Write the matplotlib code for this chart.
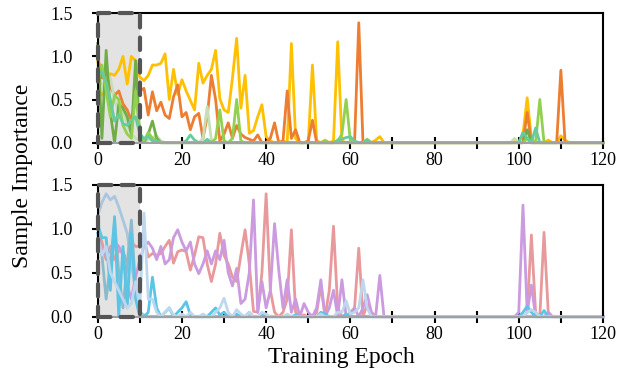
import numpy as np
import matplotlib
matplotlib.use("Agg")
from matplotlib import pyplot as plt
from matplotlib.patches import Rectangle

plt.rcParams['font.family'] = ['Liberation Serif', 'DejaVu Serif']

epochs = np.arange(0, 121)
late_start = 98   # second block of values starts at this epoch

# ---- top panel, epochs 0-69 and 98-112 (zero elsewhere)
gold_early = [0.95, 0.55, 0.72, 0.80, 0.78, 0.85, 1.00, 0.68, 1.00, 0.95,
              0.76, 0.72, 0.78, 0.90, 0.90, 0.92, 1.03, 0.50, 0.85, 0.56,
              0.73, 0.60, 0.49, 0.38, 0.92, 0.69, 0.78, 0.85, 1.07, 0.51,
              0.38, 0.35, 0.75, 1.21, 0.40, 0.78, 0.11, 0.14, 0.30, 0.44,
              0.07, 0.02, 0.00, 0.00, 0.02, 0.00, 1.15, 0.05, 0.00, 0.00,
              0.00, 0.90, 0.02, 0.00, 0.03, 0.00, 0.02, 1.17, 0.02, 0.00,
              0.00, 0.00, 0.00, 0.00, 0.00, 0.00, 0.03, 0.07, 0.00, 0.00]
gold_late = [0, 0.02, 0, 0.10, 0.52, 0.05, 0, 0, 0, 0.03, 0, 0, 0.08, 0.03, 0]

orange_early = [1.00, 0.75, 0.80, 0.65, 0.55, 0.60, 0.45, 0.38, 0.26, 0.50,
                0.60, 0.63, 0.32, 0.59, 0.37, 0.47, 0.32, 0.28, 0.53, 0.67,
                0.30, 0.35, 0.15, 0.30, 0.34, 0.05, 0.30, 0.78, 0.50, 0.02,
                0.10, 0.23, 0.05, 0.20, 0.10, 0.06, 0.04, 0.02, 0.09, 0.00,
                0.00, 0.05, 0.23, 0.00, 0.02, 0.60, 0.05, 0.15, 0.00, 0.00,
                0.02, 0.26, 0.00, 0.00, 0.00, 0.00, 0.00, 0.00, 0.00, 0.00,
                0.00, 0.00, 1.39, 0.00, 0.00, 0.00, 0.00, 0.00, 0.00, 0.00]
orange_late = [0, 0, 0, 0, 0.35, 0, 0, 0, 0, 0, 0, 0, 0.84, 0, 0]

dkgreen_early = [1.15, 0.05, 1.07, 0.35, 0.00, 0.45, 0.40, 0.30, 0.10, 0.95,
                 0.05, 0.00, 0.10, 0.25, 0.05]
dkgreen_late = [0, 0, 0, 0, 0.15, 0, 0, 0, 0, 0, 0, 0, 0, 0, 0]

ltgreen_early = [0.70, 0.90, 0.60, 0.30, 0.55, 0.50, 0.20, 0.10, 0.05, 0.60,
                 0.10, 0.02, 0.12, 0.05, 0.02, 0.00, 0.00, 0.00, 0.00, 0.00,
                 0.00, 0.00, 0.00, 0.00, 0.00, 0.00, 0.00, 0.00, 0.05, 0.38,
                 0.02, 0.00, 0.05, 0.50, 0.02, 0.00, 0.00, 0.00, 0.00, 0.00,
                 0.00, 0.00, 0.00, 0.00, 0.00, 0.00, 0.00, 0.00, 0.00, 0.00,
                 0.00, 0.00, 0.00, 0.00, 0.02, 0.00, 0.00, 0.02, 0.10, 0.50,
                 0.02, 0.00, 0.00, 0.00, 0.04]
ltgreen_late = [0, 0, 0, 0, 0.05, 0, 0, 0.50, 0, 0, 0, 0, 0, 0, 0]

palegreen_early = [0.75, 0.60, 0.80, 0.75, 0.50, 0.35, 0.38, 0.20, 0.10, 0.05,
                   0.02, 0.00, 0.03, 0.06, 0.08, 0.02, 0.00, 0.00, 0.00, 0.00,
                   0.00, 0.00, 0.00, 0.00, 0.00, 0.05, 0.42, 0.03]
palegreen_late = [0, 0.05, 0, 0, 0, 0, 0, 0, 0, 0, 0, 0, 0, 0, 0]

teal_early = [0.80, 0.82, 0.70, 0.50, 0.25, 0.33, 0.22, 0.20, 0.26, 0.30,
              0.10, 0.05, 0.07, 0.02, 0.02, 0.00, 0.00, 0.00, 0.00, 0.00,
              0.00, 0.02, 0.09, 0.03, 0.00, 0.00, 0.04, 0.00, 0.00, 0.00,
              0.00, 0.00, 0.00, 0.00, 0.00, 0.00, 0.00, 0.00, 0.00, 0.00,
              0.00, 0.00, 0.00, 0.00, 0.00, 0.00, 0.00, 0.00, 0.00, 0.00,
              0.00, 0.00, 0.00, 0.00, 0.00, 0.00, 0.00, 0.03, 0.04, 0.06,
              0.07, 0.02, 0.00, 0.00, 0.03]
teal_late = [0, 0, 0, 0.12, 0.05, 0, 0.17, 0, 0, 0, 0, 0, 0, 0, 0]

# ---- bottom panel
pink_early = [1.00, 0.85, 0.65, 0.80, 0.65, 0.75, 0.75, 0.60, 0.85, 0.80,
              0.80, 0.90, 0.68, 0.72, 0.70, 0.72, 0.80, 0.87, 0.61, 0.74,
              0.76, 0.74, 0.53, 0.70, 0.91, 0.90, 0.60, 0.40, 0.60, 0.95,
              0.70, 0.60, 0.45, 0.40, 0.70, 0.99, 0.60, 0.06, 0.05, 0.50,
              1.40, 0.30, 0.05, 0.00, 0.05, 0.20, 0.99, 0.05, 0.00, 0.02,
              0.00, 0.00, 0.05, 0.35, 0.00, 0.30, 1.03, 0.10, 0.00, 0.00,
              0.05, 0.10, 0.78, 0.00, 0.14, 0.05, 0.00, 0.00, 0.00, 0.00]
pink_late = [0, 0, 0, 0, 0.05, 0.93, 0.05, 0, 0.96, 0.05, 0, 0, 0, 0, 0]

lilac_early = [0.85, 0.70, 0.75, 0.60, 0.85, 0.80, 0.70, 0.35, 0.20, 0.45,
               0.65, 0.80, 0.85, 0.78, 0.65, 0.80, 0.60, 0.65, 0.90, 0.99,
               0.85, 0.75, 0.85, 0.60, 0.49, 0.60, 0.75, 0.60, 0.75, 0.65,
               0.87, 0.50, 0.35, 0.55, 0.15, 0.20, 0.50, 1.33, 0.05, 0.40,
               0.10, 0.30, 1.06, 0.53, 0.10, 0.42, 0.05, 0.20, 0.00, 0.15,
               0.05, 0.00, 0.10, 0.42, 0.00, 0.10, 0.30, 0.00, 0.42, 0.00,
               0.02, 0.10, 0.00, 0.10, 0.25, 0.05, 0.00, 0.47, 0.00, 0.00]
lilac_late = [0, 0, 0.05, 1.27, 0.05, 0.36, 0, 0, 0, 0.05, 0, 0, 0, 0, 0]

steel_early = [1.15, 1.30, 1.40, 1.33, 1.37, 1.25, 1.10, 0.95, 0.60, 0.30,
               0.05, 0.02]
steel_late = [0] * 15

sky_early = [1.05, 0.90, 0.90, 0.30, 1.14, 0.00, 0.80, 0.10, 0.95, 0.20,
             0.00, 0.00, 0.05, 0.45, 0.10, 0.00, 0.05, 0.10, 0.00, 0.05,
             0.10, 0.17, 0.02, 0.00, 0.00, 0.00, 0.00, 0.05, 0.10, 0.02,
             0.05, 0.00, 0.00, 0.03, 0.00, 0.00, 0.05, 0.00, 0.00, 0.03,
             0.00, 0.00, 0.00, 0.00, 0.00, 0.00, 0.00, 0.02, 0.00, 0.00,
             0.00, 0.00, 0.00, 0.05, 0.03, 0.00, 0.00, 0.00, 0.00, 0.03]
sky_late = [0, 0, 0, 0.05, 0.12, 0.05, 0, 0, 0.07, 0, 0, 0, 0, 0, 0]

mid_early = [0.95, 0.70, 0.20, 0.60, 1.10, 0.50, 0.10, 0.60, 1.10, 0.30, 0.00]
mid_late = [0] * 15

pale_early = [0.90, 0.70, 0.80, 0.50, 0.40, 0.30, 0.20, 0.10, 0.15, 0.40,
              0.10, 1.18, 0.20, 0.20, 0.05, 0.00, 0.05, 0.10, 0.02, 0.00,
              0.03, 0.00, 0.05, 0.00, 0.00, 0.03, 0.00, 0.00, 0.05, 0.10,
              0.21, 0.05, 0.00, 0.08, 0.03, 0.00, 0.05, 0.00, 0.00, 0.05,
              0.03, 0.00, 0.00, 0.00, 0.00, 0.03, 0.00, 0.00, 0.00, 0.00,
              0.00, 0.00, 0.00, 0.03, 0.00, 0.00, 0.00, 0.05, 0.05, 0.18,
              0.03, 0.05, 0.10, 0.42, 0.10]
pale_late = [0, 0, 0, 0, 0.05, 0.08, 0.05, 0, 0, 0, 0, 0, 0, 0, 0]

top_series = [(gold_early, gold_late, '#FFC000'),
              (orange_early, orange_late, '#ED7D31'),
              (palegreen_early, palegreen_late, '#C5E0B4'),
              (dkgreen_early, dkgreen_late, '#70AD47'),
              (ltgreen_early, ltgreen_late, '#92D050'),
              (teal_early, teal_late, '#66CC9E')]
bottom_series = [(steel_early, steel_late, '#A9C6DE'),
                 (pink_early, pink_late, '#E8999B'),
                 (lilac_early, lilac_late, '#CB9ADF'),
                 (mid_early, mid_late, '#8CBACB'),
                 (sky_early, sky_late, '#5BC5E6'),
                 (pale_early, pale_late, '#BDD7EE')]


def full_series(early, late):
    y = np.zeros(len(epochs))
    y[:len(early)] = early
    y[late_start:late_start + len(late)] = late
    return y


def draw_panel(ax, series):
    ax.add_patch(Rectangle((0, 0), 10, 1.5, facecolor='#E3E3E3',
                           edgecolor='none', zorder=0))
    for early, late, col in series:
        ax.plot(epochs, full_series(early, late), color=col, lw=2,
                solid_joinstyle='round', clip_on=False, zorder=2)
    # dashed outline of the highlighted warm-up window
    ax.add_patch(Rectangle((0, 0), 10, 1.5, facecolor='none',
                           edgecolor='#555555', lw=3, linestyle=(0, (3, 2.4)),
                           capstyle='round', joinstyle='round',
                           clip_on=False, zorder=3))
    ax.set_xlim(0, 120)
    ax.set_ylim(0, 1.5)
    ax.set_xticks(range(0, 121, 10))
    ax.set_xticklabels([str(t) if t % 20 == 0 else '' for t in range(0, 121, 10)])
    ax.set_yticks([0, 0.5, 1.0, 1.5])
    ax.set_yticklabels(['0.0', '0.5', '1.0', '1.5'])
    ax.tick_params(axis='x', direction='inout', length=8, width=1.5,
                   labelsize=13, pad=3)
    ax.tick_params(axis='y', direction='out', length=4, width=1.5,
                   labelsize=13, pad=14)
    for s in ax.spines.values():
        s.set_linewidth(1.5)
    ax.spines['bottom'].set_color('#A0A0A0')


fig = plt.figure(figsize=(6.24, 3.71), dpi=100)
ax1 = fig.add_axes([0.1566, 0.6154, 0.8097, 0.3488])
ax2 = fig.add_axes([0.1566, 0.1464, 0.8097, 0.355])
draw_panel(ax1, top_series)
draw_panel(ax2, bottom_series)

fig.text(0.036, 0.527, 'Sample Importance', rotation=90, fontsize=17,
         ha='center', va='center')
fig.text(0.5465, 0.0216, 'Training Epoch', fontsize=17,
         ha='center', va='baseline')

fig.savefig('out.png', dpi=100)
